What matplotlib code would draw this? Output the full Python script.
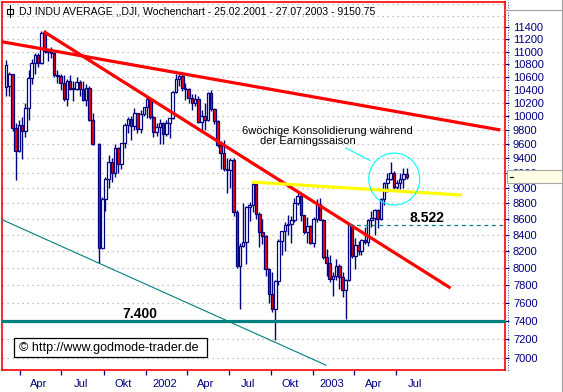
import matplotlib
matplotlib.use('Agg')
import matplotlib.pyplot as plt
import matplotlib.dates as mdates
import matplotlib.transforms as mtransforms
from matplotlib.patches import Ellipse, Rectangle
from matplotlib.lines import Line2D
from matplotlib.ticker import FixedLocator, NullLocator
import numpy as np
import pandas as pd

plt.rcParams['font.family'] = ['Liberation Sans', 'DejaVu Sans']

# ---- weekly candles (week ending) ----
weeks = (
    ['2001-03-02', '2001-03-09', '2001-03-16', '2001-03-23', '2001-03-30', '2001-04-06', '2001-04-13',
     '2001-04-20', '2001-04-27', '2001-05-04', '2001-05-11', '2001-05-18', '2001-05-25', '2001-06-01',
     '2001-06-08', '2001-06-15', '2001-06-22', '2001-06-29', '2001-07-06', '2001-07-13', '2001-07-20',
     '2001-07-27', '2001-08-03', '2001-08-10', '2001-08-17', '2001-08-24', '2001-08-31', '2001-09-07',
     '2001-09-21', '2001-09-28', '2001-10-05', '2001-10-12', '2001-10-19', '2001-10-26', '2001-11-02',
     '2001-11-09', '2001-11-16', '2001-11-23', '2001-11-30', '2001-12-07', '2001-12-14', '2001-12-21',
     '2001-12-28']
    + ['2002-01-04', '2002-01-11', '2002-01-18', '2002-01-25', '2002-02-01', '2002-02-08', '2002-02-15',
       '2002-02-22', '2002-03-01', '2002-03-08', '2002-03-15', '2002-03-22', '2002-03-28', '2002-04-05',
       '2002-04-12', '2002-04-19', '2002-04-26', '2002-05-03', '2002-05-10', '2002-05-17', '2002-05-24',
       '2002-05-31', '2002-06-07', '2002-06-14', '2002-06-21', '2002-06-28', '2002-07-05', '2002-07-12',
       '2002-07-19', '2002-07-26', '2002-08-02', '2002-08-09', '2002-08-16', '2002-08-23', '2002-08-30',
       '2002-09-06', '2002-09-13', '2002-09-20', '2002-09-27', '2002-10-04', '2002-10-11', '2002-10-18',
       '2002-10-25', '2002-11-01', '2002-11-08', '2002-11-15', '2002-11-22', '2002-11-29', '2002-12-06',
       '2002-12-13', '2002-12-20', '2002-12-27']
    + ['2003-01-03', '2003-01-10', '2003-01-17', '2003-01-24', '2003-01-31', '2003-02-07', '2003-02-14',
       '2003-02-21', '2003-02-28', '2003-03-07', '2003-03-14', '2003-03-21', '2003-03-28', '2003-04-04',
       '2003-04-11', '2003-04-17', '2003-04-25', '2003-05-02', '2003-05-09', '2003-05-16', '2003-05-23',
       '2003-05-30', '2003-06-06', '2003-06-13', '2003-06-20', '2003-06-27', '2003-07-03', '2003-07-11',
       '2003-07-18', '2003-07-25']
)

opens = (
    [10440, 10460, 10644, 9823, 9504, 9878, 9791, 10126, 10579, 10810, 10951, 10821, 11301, 11005,
     10990, 10977, 10623, 10604, 10502, 10252, 10539, 10415, 10416, 10512, 10416, 10240, 10423, 9949,
     9605, 8236, 8847, 9119, 9344, 9204, 9545, 9323, 9608, 9866, 9959, 9851, 10049, 9811, 10035]
    + [10136, 10259, 9987, 9771, 9840, 9907, 9744, 9903, 9968, 10368, 10572, 10608, 10427, 10404,
       10271, 10191, 10257, 9910, 10006, 9939, 10353, 10105, 9925, 9589, 9474, 9253, 9243, 9380,
       8684, 8019, 8264, 8313, 8745, 8778, 9053, 8664, 8428, 8380, 7986, 7701, 7529, 7850,
       8322, 8444, 8518, 8537, 8579, 8804, 8896, 8645, 8433, 8511]
    + [8303, 8601, 8785, 8587, 8131, 8053, 7864, 7908, 8018, 7891, 7740, 7859, 8522, 8145,
       8277, 8203, 8337, 8306, 8582, 8604, 8713, 8601, 8850, 9062, 9117, 9201, 9011, 9070, 9119, 9188]
)

highs = (
    [10860, 10680, 10650, 9900, 9950, 9990, 10200, 10700, 10880, 10980, 10970, 11340, 11350, 11020,
     11080, 10990, 10700, 10650, 10620, 10560, 10620, 10530, 10600, 10550, 10530, 10480, 10450, 10050,
     9610, 8880, 9150, 9450, 9400, 9600, 9560, 9620, 9900, 9990, 10000, 10120, 10050, 10100, 10140]
    + [10300, 10270, 10000, 9900, 9960, 9920, 9950, 9980, 10380, 10640, 10650, 10673, 10500, 10420,
       10330, 10330, 10310, 10100, 10200, 10360, 10390, 10120, 9950, 9640, 9660, 9400, 9400, 9400,
       8710, 8300, 8800, 8760, 8810, 9077, 9060, 8690, 8600, 8400, 8000, 7950, 7860, 8350,
       8450, 8560, 8650, 8630, 8860, 8950, 8930, 8650, 8620, 8520]
    + [8620, 8850, 8870, 8600, 8230, 8150, 7950, 8100, 8050, 7950, 7870, 8540, 8530, 8360,
       8320, 8350, 8500, 8600, 8700, 8720, 8720, 8870, 9080, 9200, 9350, 9230, 9100, 9200, 9260, 9260]
)

lows = (
    [10300, 10300, 9780, 9106, 9490, 9389, 9700, 9950, 10480, 10650, 10750, 10800, 10980, 10850,
     10900, 10600, 10500, 10400, 10230, 10150, 10400, 10230, 10400, 10300, 10230, 10150, 9930, 9580,
     8062, 8230, 8700, 9000, 9080, 9150, 9200, 9250, 9550, 9750, 9650, 9800, 9750, 9760, 10000]
    + [9980, 9960, 9700, 9720, 9600, 9600, 9720, 9680, 9960, 10350, 10450, 10380, 10250, 10200,
       10100, 10150, 9900, 9800, 9800, 9930, 10080, 9880, 9560, 9250, 9230, 8930, 9000, 8630,
       8000, 7532, 8250, 8050, 8570, 8680, 8600, 8250, 8280, 7900, 7600, 7500, 7197, 7800,
       8150, 8200, 8400, 8300, 8560, 8780, 8570, 8410, 8300, 8280]
    + [8250, 8560, 8580, 8110, 7900, 7840, 7670, 7860, 7750, 7660, 7416, 7850, 8120, 7990,
       8150, 8150, 8280, 8260, 8500, 8400, 8480, 8580, 8780, 8950, 9100, 8980, 8980, 8980, 9000, 9120]
)

closes = (
    [10790, 10644, 9823, 9504, 9878, 9791, 10126, 10579, 10810, 10951, 10821, 11301, 11005, 10990,
     10977, 10623, 10604, 10502, 10252, 10539, 10415, 10416, 10512, 10416, 10240, 10423, 9949, 9605,
     8236, 8847, 9119, 9344, 9204, 9545, 9323, 9608, 9866, 9959, 9851, 10049, 9811, 10035, 10136]
    + [10259, 9987, 9771, 9840, 9907, 9744, 9903, 9968, 10368, 10572, 10608, 10427, 10404, 10271,
       10191, 10257, 9910, 10006, 9939, 10353, 10105, 9925, 9589, 9474, 9253, 9243, 9380, 8684,
       8019, 8264, 8313, 8745, 8778, 9053, 8664, 8428, 8380, 7986, 7701, 7529, 7850, 8322,
       8444, 8518, 8537, 8579, 8804, 8896, 8645, 8433, 8511, 8303]
    + [8601, 8785, 8587, 8131, 8053, 7864, 7908, 8018, 7891, 7740, 7859, 8522, 8145, 8277,
       8203, 8337, 8306, 8582, 8604, 8713, 8601, 8850, 9062, 9117, 9201, 9011, 9070, 9119, 9188, 9151]
)

# ---- drawn-in lines (date, price) ----
upper_trend = (['2001-02-21', '2004-02-15'], [11160, 9800])
down_trend = (['2001-05-23', '2003-10-29'], [11330, 7765])
yellow_line = (['2002-08-21', '2003-11-23'], [9077, 8904])
channel_low = (['2001-02-21', '2003-01-30'], [8588, 6931])
support_level = 7400
breakout_level = 8522
breakout_date = '2003-03-21'
circle_center = ('2003-06-28', 9117)
pointer = (['2003-03-14', '2003-05-06'], [9544, 9370])

# axis ticks
tick_levels = list(range(7000, 11401, 200))
grid_levels = list(range(7000, 11801, 200))
quarter_ticks = ['2001-04-01', '2001-07-01', '2001-10-01', '2002-01-01', '2002-04-01',
                 '2002-07-01', '2002-10-01', '2003-01-01', '2003-04-01', '2003-07-01']
quarter_labels = ['Apr', 'Jul', 'Okt', '2002', 'Apr', 'Jul', 'Okt', '2003', 'Apr', 'Jul']

W, H = 563, 392
NAVY = '#000080'
TEAL = '#008080'


def fx(px):
    return px / W


def fy(py):
    return 1 - py / H


def d2n(dates):
    return mdates.date2num(pd.to_datetime(dates))


fig = plt.figure(figsize=(W / 100, H / 100), dpi=100)
fig.patch.set_facecolor('white')
ax = fig.add_axes([fx(2), fy(370), 503 / W, 368 / H])
ax.set_yscale('log')

# gridlines
ax.hlines(grid_levels, 0, 1, transform=ax.get_yaxis_transform(), colors='#B0B0B0',
          linestyles=(0, (1, 3)), linewidth=0.9, zorder=1)

# candles
x = d2n(weeks)
o = np.array(opens, float)
h = np.array(highs, float)
l = np.array(lows, float)
c = np.array(closes, float)
up = c >= o
ax.vlines(x, l, h, color=NAVY, linewidth=1.0, zorder=3)
lo = np.minimum(o, c)
hi = np.maximum(o, c)
ax.bar(x, np.maximum(hi - lo, 8), bottom=lo, width=5.6,
       color=np.where(up, 'white', '#FF0000'), edgecolor=NAVY, linewidth=0.9, zorder=4)

# trend lines
ax.plot(d2n(upper_trend[0]), upper_trend[1], color='#FF0000', linewidth=2.3, zorder=5,
        solid_capstyle='butt')
ax.plot(d2n(down_trend[0]), down_trend[1], color='#FF0000', linewidth=2.3, zorder=5,
        solid_capstyle='butt')
ax.plot(d2n(yellow_line[0]), yellow_line[1], color='#FFFF00', linewidth=2.3, zorder=5,
        solid_capstyle='butt')
ax.plot(d2n(channel_low[0]), channel_low[1], color=TEAL, linewidth=0.8, zorder=5)
ax.axhline(support_level, color=TEAL, linewidth=2.3, zorder=5)

xmin, xmax = d2n(['2001-02-21', '2004-02-25'])
ax.hlines(breakout_level, d2n([breakout_date])[0], xmax, colors=TEAL,
          linestyles=(0, (3, 3)), linewidth=0.9, zorder=5)
ax.plot(d2n(pointer[0]), pointer[1], color='#00FFFF', linewidth=0.8, zorder=5)

ax.set_xlim(xmin, xmax)
ax.set_ylim(6882, 11833)

# circle round the consolidation
cx = d2n([circle_center[0]])[0]
ctrans = fig.dpi_scale_trans + mtransforms.ScaledTranslation(cx, circle_center[1], ax.transData)
fig.add_artist(Ellipse((0, 0), 0.51, 0.52, transform=ctrans, fill=False,
                       edgecolor='#00FFFF', linewidth=0.8, zorder=6))

# axes styling
for s in ax.spines.values():
    s.set_color('#FF0000')
    s.set_linewidth(1.2)

ax.yaxis.tick_right()
ax.yaxis.set_major_locator(FixedLocator(tick_levels))
ax.yaxis.set_minor_locator(NullLocator())
ax.set_yticklabels([str(v) for v in tick_levels])
ax.tick_params(axis='y', which='major', direction='out', length=3.2, width=0.8,
               color=NAVY, labelcolor=NAVY, labelsize=8, pad=2.5)

qx = d2n(quarter_ticks)
ax.xaxis.set_major_locator(FixedLocator(qx))
ax.xaxis.set_minor_locator(FixedLocator(qx + 42))
ax.xaxis.set_major_formatter(plt.NullFormatter())
ax.set_xticklabels(quarter_labels, minor=True)
ax.tick_params(axis='x', which='major', direction='out', length=3.6, width=0.9, color=NAVY)
ax.tick_params(axis='x', which='minor', length=0, labelcolor=NAVY, labelsize=8, pad=6.5)

# dotted axis line next to the price scale
fig.add_artist(Line2D([fx(507.5), fx(507.5)], [fy(2), fy(372)], color=NAVY,
                      linestyle=(0, (1, 2)), linewidth=0.6))
fig.add_artist(Line2D([fx(505), fx(563)], [fy(10), fy(10)], color='#A0A0A0', linewidth=0.8))
fig.add_artist(Line2D([fx(561.5), fx(561.5)], [fy(0), fy(392)], color='#A0A0A0', linewidth=0.8))

# price tag box (covers the 9200 label)
fig.add_artist(Rectangle((fx(507), fy(183.5)), 55 / W, 13 / H, transform=fig.transFigure,
                         facecolor='#FFFFE6', edgecolor='#A8A8A8', linewidth=0.8, zorder=10))
fig.add_artist(Line2D([fx(510), fx(513)], [fy(177), fy(177)], color='black', linewidth=0.8,
                      zorder=11))

# title with small candle icon
fig.add_artist(Rectangle((fx(7.5), fy(14)), 5 / W, 5 / H, transform=fig.transFigure,
                         fill=False, edgecolor='black', linewidth=0.8))
fig.add_artist(Line2D([fx(10), fx(10)], [fy(5), fy(17)], color='black', linewidth=0.8))
fig.text(fx(19), fy(11), 'DJ INDU AVERAGE ,,DJI, Wochenchart - 25.02.2001 - 27.07.2003 - 9150.75',
         fontsize=7.6, va='center', ha='left', color='black')

# annotations
fig.text(fx(242), fy(131), '6wöchige Konsolidierung während', fontsize=8, va='center', ha='left')
fig.text(fx(260), fy(141), 'der Earningssaison', fontsize=8, va='center', ha='left')
fig.text(fx(140), fy(318), '7.400', fontsize=10, fontweight='bold', va='baseline', ha='center')
fig.text(fx(427), fy(221.5), '8.522', fontsize=10, fontweight='bold', va='baseline', ha='center')

# copyright box
fig.add_artist(Rectangle((fx(14), fy(357)), 193 / W, 19 / H, transform=fig.transFigure,
                         facecolor='white', edgecolor='black', linewidth=0.9, zorder=8))
fig.text(fx(19), fy(347.5), '© http://www.godmode-trader.de', fontsize=9, va='center',
         ha='left', zorder=9)

fig.savefig('out.png', dpi=100)
